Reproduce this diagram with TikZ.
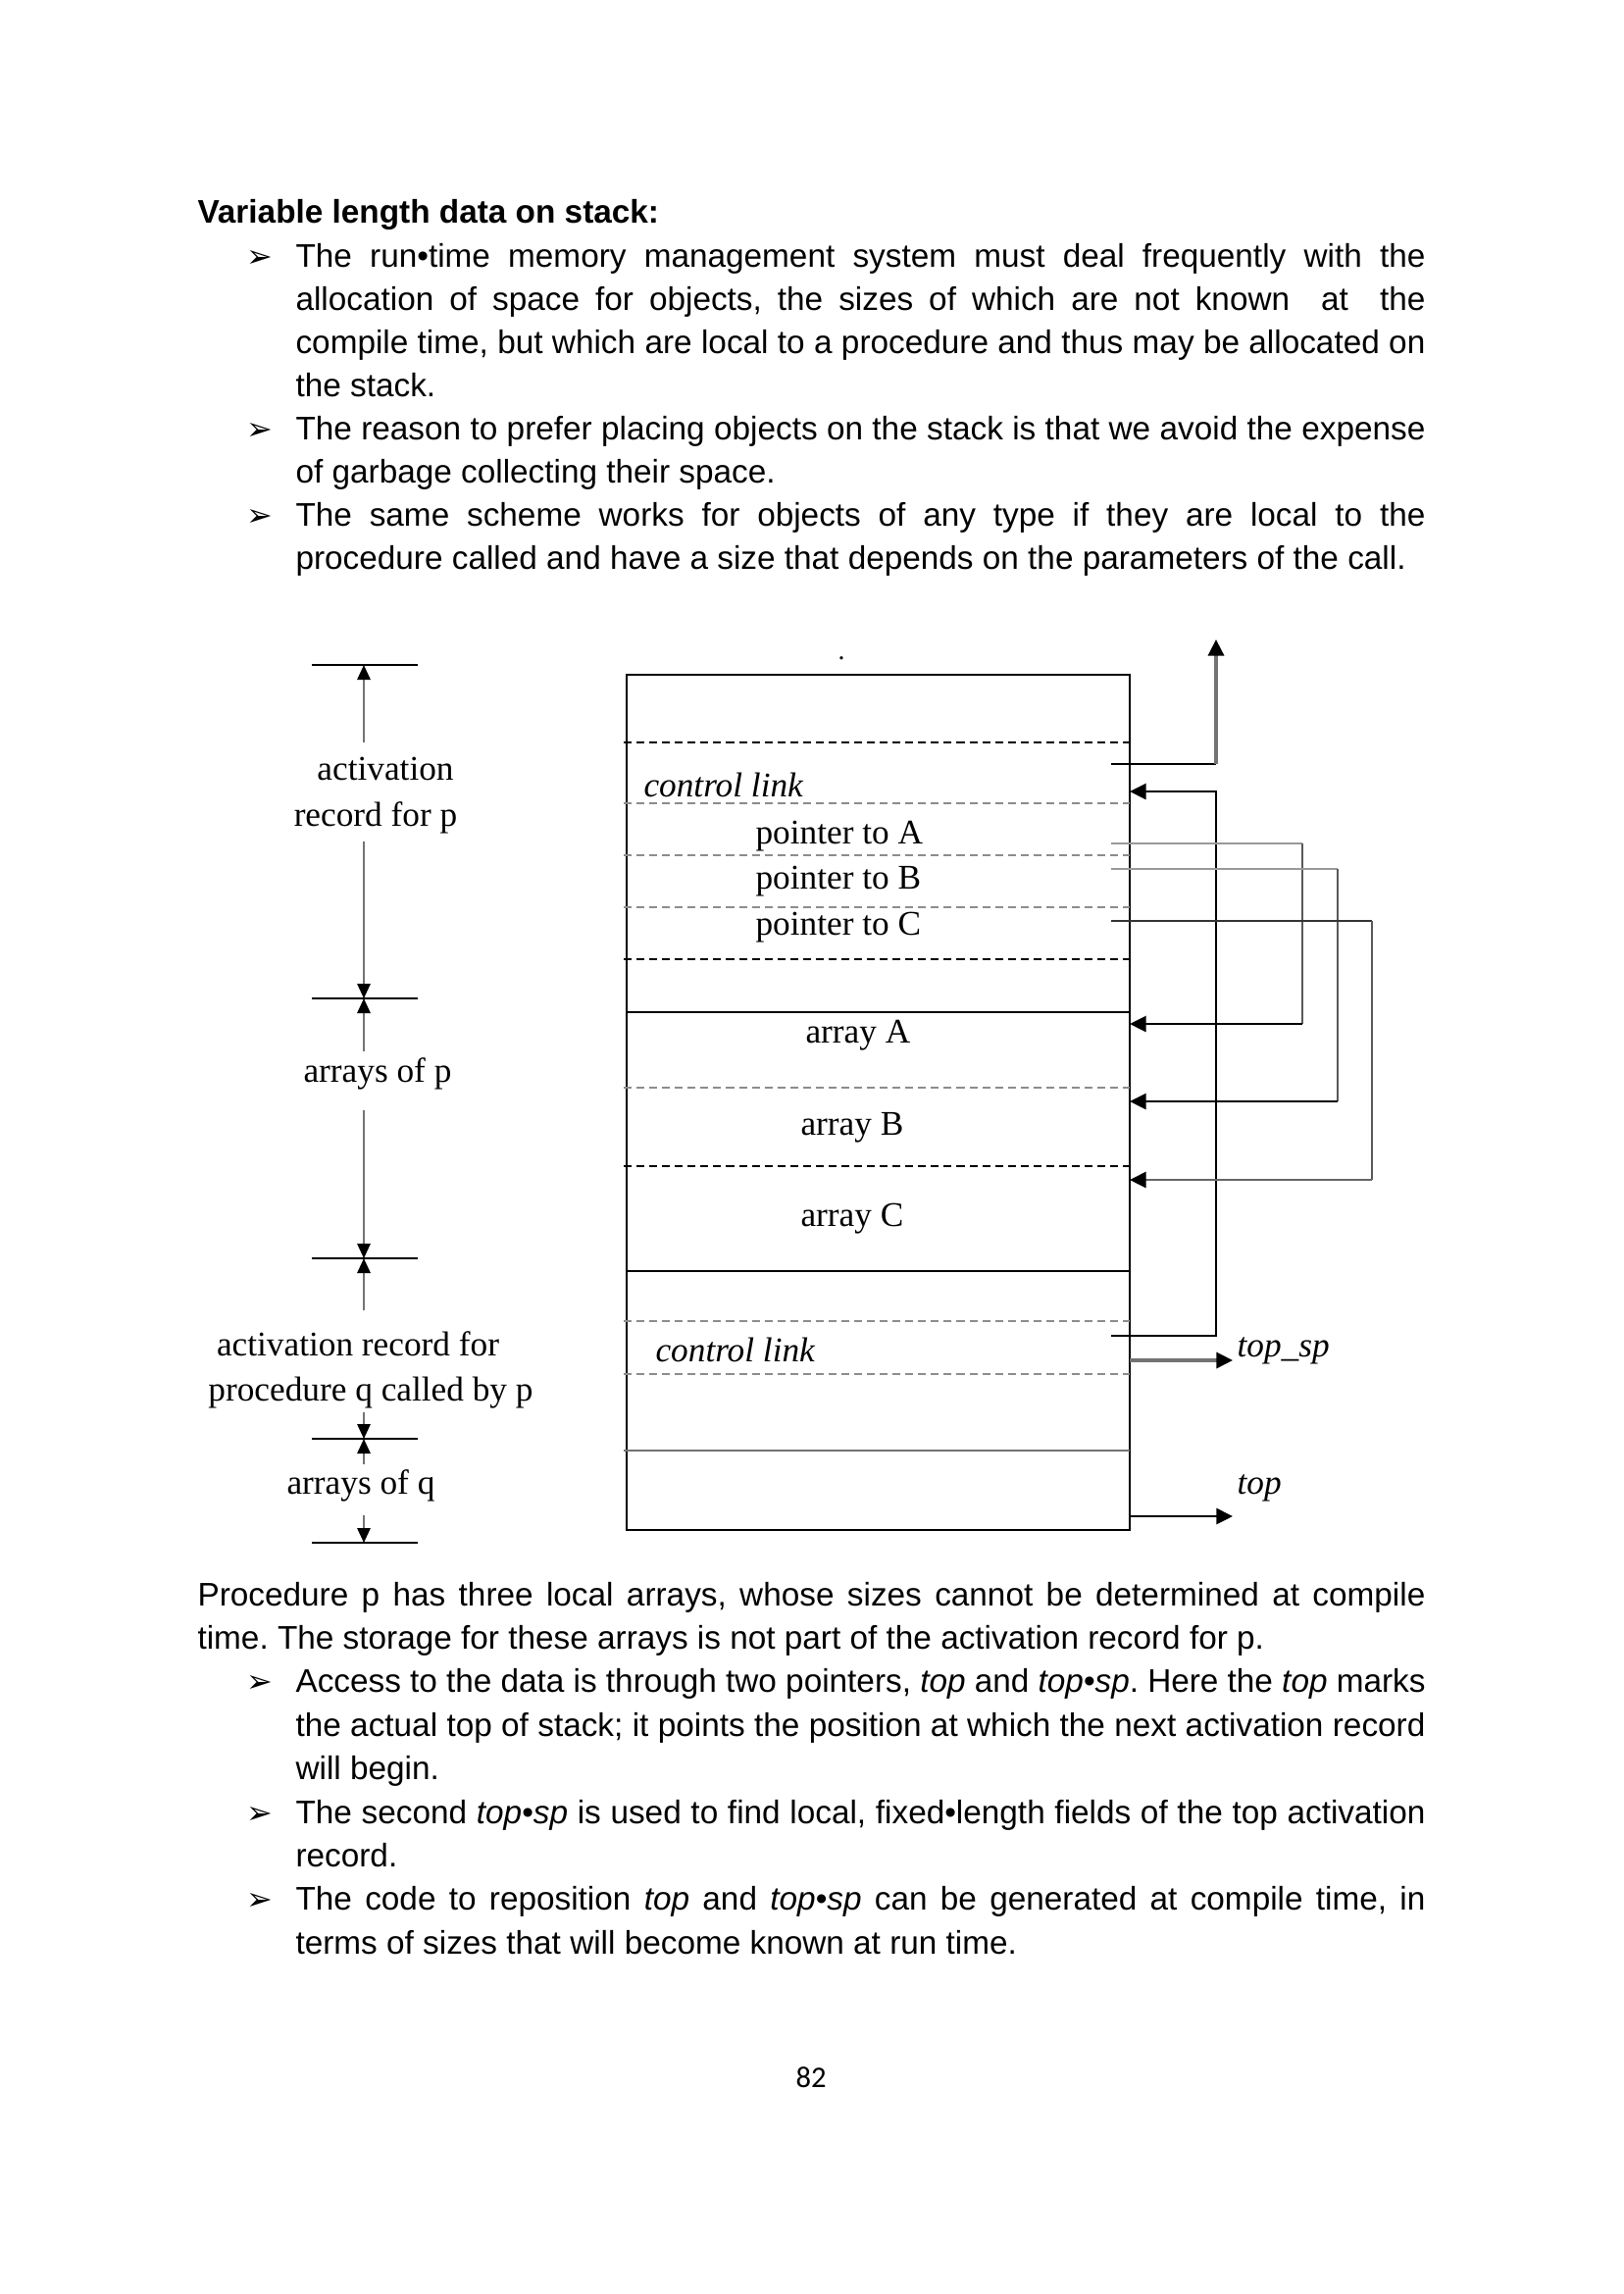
\documentclass[tikz,border=0pt]{standalone}
\usepackage{fontspec}
\setmainfont{Liberation Sans}
\newfontfamily\diagserif{Liberation Serif}
\newfontfamily\symfont{DejaVu Sans}
\newfontfamily\pagenumfont{Carlito}
\usetikzlibrary{arrows.meta}
\frenchspacing
\newcommand\jline[5]{\node[txt] (#1) at (#2,#3) {\makebox[#4][s]{#5}};}
\newcommand\nline[4]{\node[txt] (#1) at (#2,#3) {#4};}
\newcommand\bul[2]{\node[bulstyle] (#1) at (251,#2) {➢};}
\tikzset{
  txt/.style={anchor=base west, inner sep=0pt, font=\fontsize{12}{14}\selectfont},
  bulstyle/.style={anchor=base west, inner sep=0pt, font=\symfont\fontsize{11.5}{13}\selectfont},
  dlab/.style={anchor=base, inner sep=0pt, font=\diagserif\fontsize{12.7}{15}\selectfont},
  blab/.style={anchor=base west, inner sep=0pt, font=\diagserif\fontsize{12.7}{15}\selectfont},
  ilab/.style={anchor=base west, inner sep=0pt, font=\diagserif\itshape\fontsize{12.7}{15}\selectfont},
  stackbox/.style={draw=black, line width=0.8pt},
  solidsep/.style={draw=black, line width=0.7pt},
  blackdash/.style={draw=black, line width=0.8pt, dash pattern=on 2.9pt off 1.8pt},
  graydash/.style={draw=black!45, line width=0.8pt, dash pattern=on 2.9pt off 1.8pt},
  tip/.style={-{Triangle[length=6pt,width=5.8pt,color=black]}},
  smalltip/.style={-{Triangle[length=5.4pt,width=4.8pt,color=black]}},
  tick/.style={draw=black, line width=0.7pt},
  dimline/.style={draw=black!55, line width=0.7pt, smalltip},
}
\begin{document}
\begin{tikzpicture}[x=0.36pt, y=-0.36pt]
\useasboundingbox (0,0) rectangle (1655,2339);
\fill[white] (0,0) rectangle (1655,2339);

% ---------- top text ----------
\node[txt, font=\bfseries\fontsize{12}{14}\selectfont] (head) at (201,227) {Variable length data on stack:};
\bul{b1}{272}
\jline{t1}{301}{272}{414.7pt}{The run•time memory management system must deal frequently with the}
\jline{t2}{301}{316.1}{414.7pt}{allocation of space for objects, the sizes of which are not known~ at~ the}
\jline{t3}{301}{360.2}{414.7pt}{compile time, but which are local to a procedure and thus may be allocated on}
\nline{t4}{301}{404.3}{the stack.}
\bul{b2}{448.4}
\jline{t5}{301}{448.4}{414.7pt}{The reason to prefer placing objects on the stack is that we avoid the expense}
\nline{t6}{301}{492.5}{of garbage collecting their space.}
\bul{b3}{536.6}
\jline{t7}{301}{536.6}{414.7pt}{The same scheme works for objects of any type if they are local to the}
\nline{t8}{301}{580.7}{procedure called and have a size that depends on the parameters of the call.}

% ---------- stack diagram ----------
\draw[stackbox] (639,688) rectangle (1152,1560);
\node[inner sep=0pt, anchor=base, font=\diagserif\fontsize{10}{12}\selectfont] (dot) at (858,672) {.};
\draw[solidsep] (639,1032) -- (1152,1032);
\draw[solidsep] (639,1296) -- (1152,1296);
\draw[solidsep, draw=black!55] (636,1479) -- (1152,1479);
\foreach \yy in {757,978,1189} {\draw[blackdash] (636,\yy) -- (1152,\yy);}
\foreach \yy in {819,872,925,1109,1347,1401} {\draw[graydash] (636,\yy) -- (1152,\yy);}

\node[ilab] (cl1) at (656,812) {control link};
\node[blab] (pa) at (770,860) {pointer to A};
\node[blab] (pb) at (770,906.5) {pointer to B};
\node[blab] (pc) at (770,953) {pointer to C};
\node[blab] (aa) at (821,1063) {array A};
\node[blab] (ab) at (816,1157) {array B};
\node[blab] (ac) at (816,1250) {array C};
\node[ilab] (cl2) at (668,1388) {control link};
\node[ilab] (topsp) at (1261,1383) {top\_sp};
\node[ilab] (toplab) at (1261,1523) {top};

% connector coordinates
\coordinate (upS) at (1133,779);
\coordinate (upC) at (1240,779);
\coordinate (upE) at (1240,652);
\coordinate (clS) at (1133,1362);
\coordinate (clC1) at (1240,1362);
\coordinate (clC2) at (1240,807);
\coordinate (clE) at (1152,807);
\coordinate (aS) at (1133,860);
\coordinate (aC1) at (1328,860);
\coordinate (aC2) at (1328,1044);
\coordinate (aE) at (1152,1044);
\coordinate (bS) at (1133,886);
\coordinate (bC1) at (1364,886);
\coordinate (bC2) at (1364,1123);
\coordinate (bE) at (1152,1123);
\coordinate (cS) at (1133,939);
\coordinate (cC1) at (1399,939);
\coordinate (cC2) at (1399,1203);
\coordinate (cE) at (1152,1203);
\coordinate (tsS) at (1152,1387);
\coordinate (tsE) at (1257,1387);
\coordinate (tS) at (1152,1546);
\coordinate (tE) at (1257,1546);

% access link going up
\draw[black, line width=0.8pt] (upS) -- (upC);
\draw[black!55, line width=1.1pt, tip] (upC) -- (upE);
% control link of q pointing to p
\draw[black, line width=0.8pt, tip] (clS) -- (clC1) -- (clC2) -- (clE);
% pointers to arrays
\draw[black!40, line width=0.9pt] (aS) -- (aC1);
\draw[black!65, line width=0.6pt] (aC1) -- (aC2);
\draw[black, line width=0.8pt, tip] (aC2) -- (aE);
\draw[black!40, line width=0.9pt] (bS) -- (bC1);
\draw[black!65, line width=0.6pt] (bC1) -- (bC2);
\draw[black, line width=0.8pt, tip] (bC2) -- (bE);
\draw[black!80, line width=0.8pt] (cS) -- (cC1);
\draw[black!65, line width=0.6pt] (cC1) -- (cC2);
\draw[black!60, line width=0.9pt, tip] (cC2) -- (cE);
% top_sp and top
\draw[black!55, line width=1.1pt, tip] (tsS) -- (tsE);
\draw[black, line width=0.9pt, tip] (tS) -- (tE);

% ---------- left dimension labels ----------
\foreach \yy in {678,1018,1283,1467,1573} {\draw[tick] (318,\yy) -- (426,\yy);}
\coordinate (d0) at (371,678);
\coordinate (d1) at (371,1018);
\coordinate (d2) at (371,1283);
\coordinate (d3) at (371,1467);
\coordinate (d4) at (371,1573);
\draw[dimline] (371,757) -- (d0);
\draw[dimline] (371,858) -- (d1);
\draw[dimline] (371,1072) -- (d1);
\draw[dimline] (371,1132) -- (d2);
\draw[dimline] (371,1336) -- (d2);
\draw[dimline] (371,1440) -- (d3);
\draw[dimline] (371,1493) -- (d3);
\draw[dimline] (371,1545) -- (d4);

\node[dlab] (l1) at (393,795) {activation};
\node[dlab] (l2) at (383,842) {record for p};
\node[dlab] (l3) at (385,1103) {arrays of p};
\node[dlab] (l4) at (365,1382) {activation record for};
\node[dlab] (l5) at (378,1428) {procedure q called by p};
\node[dlab] (l6) at (368,1523) {arrays of q};

% ---------- bottom text ----------
\jline{u0}{201}{1637}{450.7pt}{Procedure p has three local arrays, whose sizes cannot be determined at compile}
\nline{u1}{201}{1681.4}{time. The storage for these arrays is not part of the activation record for p.}
\bul{b4}{1725.8}
\jline{u2}{301}{1725.8}{414.7pt}{Access to the data is through two pointers, \textit{top} and \textit{top•sp}. Here the \textit{top} marks}
\jline{u3}{301}{1770.2}{414.7pt}{the actual top of stack; it points the position at which the next activation record}
\nline{u4}{301}{1814.6}{will begin.}
\bul{b5}{1859}
\jline{u5}{301}{1859}{414.7pt}{The second \textit{top•sp} is used to find local, fixed•length fields of the top activation}
\nline{u6}{301}{1903.4}{record.}
\bul{b6}{1947.8}
\jline{u7}{301}{1947.8}{414.7pt}{The code to reposition \textit{top} and \textit{top•sp} can be generated at compile time, in}
\nline{u8}{301}{1992.2}{terms of sizes that will become known at run time.}

\node[anchor=base, inner sep=0pt, font=\pagenumfont\fontsize{11}{13}\selectfont] (pnum) at (827,2128) {82};
\end{tikzpicture}
\end{document}
